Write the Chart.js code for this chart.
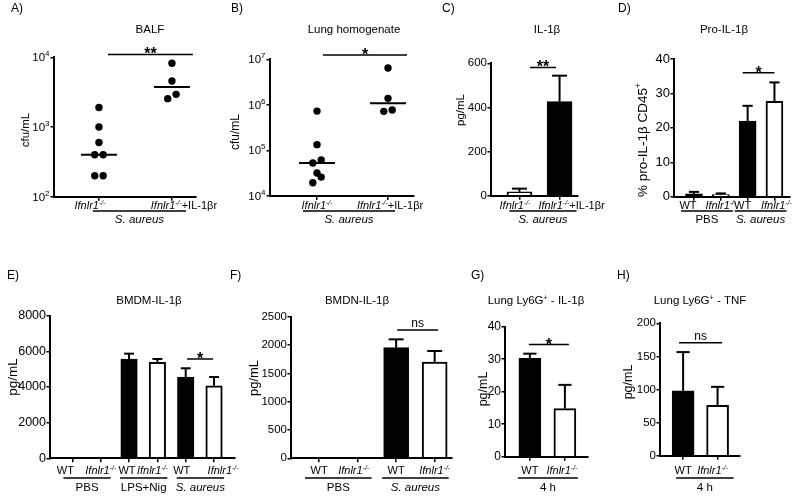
<!DOCTYPE html>
<html><head><meta charset="utf-8">
<script src="https://cdn.jsdelivr.net/npm/chart.js@4.4.1/dist/chart.umd.min.js"></script>
<style>
html,body{margin:0;padding:0;background:#fff;width:800px;height:497px;overflow:hidden}
canvas{position:absolute;left:0;top:0}
</style></head><body>
<script>
// ================= DATA =================
const KO = '_Ifnlr1^-/-^_';
const catsKOIL = [KO, KO + '+IL-1βr'];
const catsWTKO2 = ['WT', KO, 'WT', KO];
const catsWTKO3 = ['WT', KO, 'WT', KO, 'WT', KO];
const catsWTKO = ['WT', KO];

// A) BALF (cfu/mL), individual animals
const balfKO = [1900, 1000, 600, 400, 400, 200, 200];
const balfKOIL = [8200, 4570, 2940, 2550];
const ticksA = [100, 1000, 10000];
// B) Lung homogenate (cfu/mL)
const lungKO = [730000, 134000, 62000, 53000, 32000, 26000, 19600];
const lungKOIL = [6450000, 1390000, 770000, 720000];
const ticksB = [1e4, 1e5, 1e6, 1e7];
// C) IL-1β pg/mL
const ilMean = [18, 426];
const ilSem = [14, 118];
const ticksC = [0, 200, 400, 600];
// D) Pro-IL-1β %
const proMean = [0.8, 0.6, 22, 27.7];
const proSem = [0.6, 0.35, 4.4, 5.5];
const ticksD = [0, 10, 20, 30, 40];
// E) BMDM-IL-1β
const bmdmMean = [0, 0, 5570, 5380, 4560, 4070];
const bmdmSem = [0, 0, 300, 190, 490, 490];
const ticksE = [0, 2000, 4000, 6000, 8000];
// F) BMDN-IL-1β
const bmdnMean = [15, 0, 1953, 1700];
const bmdnSem = [0, 0, 147, 194];
const ticksF = [0, 500, 1000, 1500, 2000, 2500];
// G) Lung Ly6G+ IL-1β
const ly6gIlMean = [30.3, 14.8];
const ly6gIlSem = [1.4, 7.3];
const ticksG = [0, 10, 20, 30, 40];
// H) Lung Ly6G+ TNF
const ly6gTnfMean = [98, 76];
const ly6gTnfSem = [58.5, 28];
const ticksH = [0, 50, 100, 150, 200];

// ================= STYLE / LAYOUT =================
const FF = '"Liberation Sans", Arial, Helvetica, sans-serif';
const YW = 40, XH = 6, JIT = 4.2;
const BW = '#000', WH = '#fff';
const TOP = {lab: 205, line: 211, grp: 219};
const BOT = {lab: 470, line: 478, grp: 487};

const panels = [
  {letter:['A)',11,8], title:['BALF',150,29], ylab:['cfu/mL',25,130,11.5], area:[54,57.3,196,196.7], xr:[-0.616,1.33],
   y:{type:'logarithmic',min:100,max:10000,ticks:ticksA}, tickSize:11.5, kind:'scatter', series:[balfKO,balfKOIL],
   cats:catsKOIL, labOff:[-9,12], groups:[['_S. aureus_',0,1]], gpad:[6,14], rows:TOP,
   sig:{a:0,b:1,y:11000,text:'**',inset:[9,21]}},
  {letter:['B)',231,8], title:['Lung homogenate',354,29], ylab:['cfu/mL',235,132,12], area:[270,59.3,414,196], xr:[-0.662,1.366],
   y:{type:'logarithmic',min:1e4,max:1e7,ticks:ticksB}, tickSize:11.5, kind:'scatter', series:[lungKO,lungKOIL],
   cats:catsKOIL, labOff:[0,2], groups:[['_S. aureus_',0,1]], gpad:[14,7], rows:TOP,
   sig:{a:0,b:1,y:1.24e7,text:'*',inset:[6,19]}},
  {letter:['C)',442,8], title:['IL-1β',547,29], ylab:['pg/mL',460,110,11.5], area:[491,63.3,578,195.7], xr:[-0.71,1.46],
   y:{type:'linear',min:0,max:600,ticks:ticksC}, tickSize:11.5, kind:'bar', mean:ilMean, sem:ilSem, fills:[WH,BW], barW:25,
   cats:catsKOIL, labOff:[-4.5,12], groups:[['_S. aureus_',0,1]], gpad:[10,17], rows:TOP,
   sig:{a:0,b:1,y:581,text:'**',inset:[10.5,-3.5]}},
  {letter:['D)',618,8], title:['Pro-IL-1β',724,29], ylab:['% pro-IL-1β CD45^+^',642,140,13.5], area:[674,59,790,196.7], xr:[-0.746,3.58],
   y:{type:'linear',min:0,max:40,ticks:ticksD}, tickSize:13, kind:'bar', mean:proMean, sem:proSem, fills:[BW,WH,BW,WH], barW:17,
   cats:catsWTKO2, labOff:[-6,0,-5,2], groups:[['PBS',0,1],['_S. aureus_',2,3]], gpad:[13,12], rows:TOP,
   sig:{a:2,b:3,y:36,text:'*',inset:[-5,0]}},
  {letter:['E)',7,275], title:['BMDM-IL-1β',149,300], ylab:['pg/mL',12,377,13.5], area:[50,315.7,235,458.3], xr:[-0.79,5.74],
   y:{type:'linear',min:0,max:8000,ticks:ticksE}, tickSize:12.5, kind:'bar', mean:bmdmMean, sem:bmdmSem, fills:[BW,WH,BW,WH,BW,WH], barW:16.5,
   cats:catsWTKO3, labOff:[-7,0,-2,-5,-4,9], groups:[['PBS',0,1],['LPS+Nig',2,3],['_S. aureus_',4,5]], gpad:[9,10], rows:BOT,
   sig:{a:4,b:5,y:5571,text:'*',inset:[1.4,-1]}},
  {letter:['F)',230,275], title:['BMDN-IL-1β',357,300], ylab:['pg/mL',253,378,13], area:[291,316.7,452,458.3], xr:[-0.73,3.45],
   y:{type:'linear',min:0,max:2500,ticks:ticksF}, tickSize:11.5, kind:'bar', mean:bmdnMean, sem:bmdnSem, fills:[BW,WH,BW,WH], barW:25,
   cats:catsWTKO2, labOff:[0,-4,0,0], groups:[['PBS',0,1],['_S. aureus_',2,3]], gpad:[14,14], rows:BOT,
   sig:{a:2,b:3,y:2265,text:'ns',inset:[1,3.5]}},
  {letter:['G)',471,275], title:['Lung Ly6G^+^ - IL-1β',536,300], ylab:['pg/mL',482,389,12.5], area:[505,326.7,588,456.7], xr:[-0.71,1.66],
   y:{type:'linear',min:0,max:40,ticks:ticksG}, tickSize:12, kind:'bar', mean:ly6gIlMean, sem:ly6gIlSem, fills:[BW,WH], barW:22,
   cats:catsWTKO, labOff:[0,-3], groups:[['4 h',0,1]], gpad:[12,13], rows:BOT,
   sig:{a:0,b:1,y:34.5,text:'*',inset:[-1,4]}},
  {letter:['H)',617,275], title:['Lung Ly6G^+^ - TNF',700,300], ylab:['pg/mL',627,382,12.5], area:[660,323.3,740,455.7], xr:[-0.67,1.65],
   y:{type:'linear',min:0,max:200,ticks:ticksH}, tickSize:11.5, kind:'bar', mean:ly6gTnfMean, sem:ly6gTnfSem, fills:[BW,WH], barW:22,
   cats:catsWTKO, labOff:[0,-5], groups:[['4 h',0,1]], gpad:[7,16], rows:BOT,
   sig:{a:0,b:1,y:170.7,text:'ns',inset:[-4,4.5]}}
];

// ================= HELPERS =================
function richParse(s){
  const out=[]; let it=false, sp=false, buf='';
  for(const ch of s){
    if(ch==='_'||ch==='^'){ if(buf){out.push({t:buf,it,sp}); buf='';} if(ch==='_') it=!it; else sp=!sp; }
    else buf+=ch;
  }
  if(buf) out.push({t:buf,it,sp});
  return out;
}
function fnt(size,it,bold){ return (it?'italic ':'')+(bold?'bold ':'')+size+'px '+FF; }
function drawRich(ctx, s, x, yc, size, align){
  const segs=richParse(s); const ss=size*0.62; let w=0;
  segs.forEach(g=>{ctx.font=fnt(g.sp?ss:size,g.it); g.w=ctx.measureText(g.t).width; w+=g.w;});
  let cx = align==='center'? x-w/2 : align==='right'? x-w : x;
  const base = yc + size*0.36;
  ctx.textAlign='left'; ctx.textBaseline='alphabetic'; ctx.fillStyle='#000';
  segs.forEach(g=>{ctx.font=fnt(g.sp?ss:size,g.it); ctx.fillText(g.t, cx, g.sp? base - size*0.4 : base); cx+=g.w;});
}
function median(a){ const s=[...a].sort((p,q)=>p-q); const n=s.length; return n%2? s[(n-1)/2] : (s[n/2-1]+s[n/2])/2; }
function line(ctx,x1,y1,x2,y2,w){ ctx.beginPath(); ctx.lineWidth=w; ctx.strokeStyle='#000'; ctx.moveTo(x1,y1); ctx.lineTo(x2,y2); ctx.stroke(); }

function makePanel(p){
  const cv=document.createElement('canvas'); cv.width=800; cv.height=497; document.body.appendChild(cv);
  const [L,T,R,B]=p.area;
  const isLog = p.y.type==='logarithmic';
  let datasets;
  if(p.kind==='scatter'){
    const pxX=(R-L)/(p.xr[1]-p.xr[0]);
    const pxDec=(B-T)/(Math.log10(p.y.max)-Math.log10(p.y.min));
    const pts=[];
    p.series.forEach((vals0,gi)=>{
      const vals=[...vals0].sort((a,b)=>b-a);
      const ys=vals.map(v=>Math.log10(v)*pxDec);
      let i=0;
      while(i<vals.length){
        let j=i; while(j+1<vals.length && Math.abs(ys[j]-ys[j+1])<7) j++;
        const k=j-i+1;
        const offs = k===1?[0]: k===2?[JIT,-JIT]:[0,JIT,-JIT,2*JIT,-2*JIT];
        for(let m=i;m<=j;m++) pts.push({x: gi + offs[m-i]/pxX, y: vals[m]});
        i=j+1;
      }
    });
    datasets=[{type:'scatter', data:pts, pointRadius:3.7, pointHoverRadius:3.7, backgroundColor:'#000', borderWidth:0}];
  } else {
    datasets=[{type:'bar', data:p.mean.map((v,i)=>({x:i,y:v})), backgroundColor:p.fills, borderColor:'#000',
      borderWidth:2, barThickness:p.barW, borderSkipped:'start'}];
  }
  const gridX={display:true, drawOnChartArea:false, drawTicks:true, tickLength:4, color:'#000', lineWidth:1.5, offset:false};
  const gridY={display:true, drawOnChartArea:false, drawTicks:true, tickLength:3.5, color:'#000', lineWidth:1.5, offset:false};
  const borderOpt={display:true, color:'#000', width:2, z:1};
  new Chart(cv,{
    type: p.kind==='scatter'?'scatter':'bar',
    data:{datasets},
    options:{
      responsive:false, animation:false, events:[], devicePixelRatio:1,
      layout:{padding:{left:L-YW, top:T, right:800-R, bottom:497-B-XH}},
      plugins:{legend:{display:false}, tooltip:{enabled:false}},
      scales:{
        x:{type:'linear', min:p.xr[0], max:p.xr[1], offset:false,
           afterBuildTicks:s=>{ s.ticks=p.cats.map((c,i)=>({value:i})); },
           afterFit:s=>{ s.height=XH; },
           ticks:{display:false}, grid:gridX, border:borderOpt},
        y:{type:p.y.type, min:p.y.min, max:p.y.max,
           afterBuildTicks:s=>{ s.ticks=p.y.ticks.map(v=>({value:v})); },
           afterFit:s=>{ s.width=YW; },
           ticks:{display:!isLog, color:'#000', padding:0.5, font:{family:FF,size:p.tickSize}, callback:v=>String(v)},
           grid:gridY, border:borderOpt}
      }
    },
    plugins:[{id:'deco',
      afterDatasetsDraw(chart){
        const ctx=chart.ctx, xs=chart.scales.x, ys=chart.scales.y;
        ctx.save();
        if(p.kind==='bar'){
          p.mean.forEach((m,i)=>{
            const s=p.sem[i]; if(!s) return;
            const x=xs.getPixelForValue(i), y0=ys.getPixelForValue(m), y1=ys.getPixelForValue(m+s);
            const hw=p.barW*0.3;
            line(ctx,x,y0,x,y1,2); line(ctx,x-hw,y1,x+hw,y1,2);
          });
        } else {
          p.series.forEach((vals,gi)=>{
            const x=xs.getPixelForValue(gi), y=ys.getPixelForValue(median(vals));
            line(ctx,x-18,y,x+18,y,2);
          });
        }
        ctx.restore();
      },
      afterDraw(chart){
        const ctx=chart.ctx, xs=chart.scales.x, ys=chart.scales.y;
        ctx.save();
        drawRich(ctx,p.letter[0],p.letter[1],p.letter[2],12,'left');
        drawRich(ctx,p.title[0],p.title[1],p.title[2],11.5,'center');
        ctx.save(); ctx.translate(p.ylab[1],p.ylab[2]); ctx.rotate(-Math.PI/2);
        drawRich(ctx,p.ylab[0],0,0,p.ylab[3],'center'); ctx.restore();
        if(isLog){
          p.y.ticks.forEach(v=>{
            const y=ys.getPixelForValue(v); const e=String(Math.round(Math.log10(v)));
            ctx.font=fnt(8); const ew=ctx.measureText(e).width;
            const xr=chart.chartArea.left-4.5;
            ctx.fillStyle='#000'; ctx.textBaseline='alphabetic';
            ctx.textAlign='right'; ctx.font=fnt(p.tickSize); ctx.fillText('10', xr-ew, y+4);
            ctx.textAlign='left'; ctx.font=fnt(8); ctx.fillText(e, xr-ew, y-1);
          });
        }
        p.cats.forEach((c,i)=>drawRich(ctx,c,xs.getPixelForValue(i)+(p.labOff?p.labOff[i]:0),p.rows.lab,11,'center'));
        p.groups.forEach(g=>{
          const x1=xs.getPixelForValue(g[1])-p.gpad[0], x2=xs.getPixelForValue(g[2])+p.gpad[1];
          line(ctx,x1,p.rows.line,x2,p.rows.line,1.5);
          drawRich(ctx,g[0],(x1+x2)/2,p.rows.grp,11.5,'center');
        });
        const sg=p.sig;
        const x1=xs.getPixelForValue(sg.a)+sg.inset[0], x2=xs.getPixelForValue(sg.b)+sg.inset[1];
        const y=ys.getPixelForValue(sg.y);
        line(ctx,x1,y,x2,y,1.5);
        ctx.fillStyle='#000'; ctx.textAlign='center'; ctx.textBaseline='alphabetic';
        if(sg.text==='ns'){ ctx.font=fnt(12); ctx.fillText('ns',(x1+x2)/2,y-3); }
        else { ctx.font=fnt(16,false,true); ctx.fillText(sg.text,(x1+x2)/2,y+5); }
        ctx.restore();
      }
    }]
  });
}
panels.forEach(makePanel);
</script>
</body></html>
